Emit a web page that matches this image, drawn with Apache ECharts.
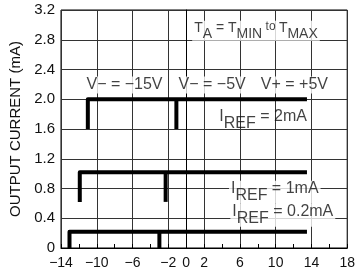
<!DOCTYPE html>
<html>
<head>
<meta charset="utf-8">
<script src="https://cdn.jsdelivr.net/npm/echarts@6/dist/echarts.min.js"></script>
<style>
  html, body { margin: 0; padding: 0; background: #fff; }
  #chart { width: 358px; height: 276px; }
</style>
</head>
<body>
<div id="chart"></div>
<script>
// supply voltage (V) on x, output current (mA) on y
const xShownLabels = [-14, -10, -6, -2, 0, 2, 6, 10, 14, 18];
const yTicks = [0, 0.4, 0.8, 1.2, 1.6, 2.0, 2.4, 2.8, 3.2];

// each curve: main step + short step on the V- side
const ref2mA = [[-11, 1.6], [-11, 2.0], [13.5, 2.0]];
const ref2mAStep = [[-1.1, 1.6], [-1.1, 2.0]];
const ref1mA = [[-11.9, 0.62], [-11.9, 1.02], [13.5, 1.02]];
const ref1mAStep = [[-2.3, 0.62], [-2.3, 1.02]];
const ref02mA = [[-13.05, 0], [-13.05, 0.22], [13.5, 0.22]];
const ref02mAStep = [[-3.0, 0], [-3.0, 0.22]];

// annotation texts
const noteTexts = [
  '{tn|T}{ts|A}{tn| = T}{ts|MIN}{tu| to }{tn|T}{ts|MAX}',
  '{n|V\u2212 = \u221215V}',
  '{n|V\u2212 = \u22125V}',
  '{n|V+ = +5V}',
  '{n|I}{s|REF}{n| = 2mA}',
  '{n|I}{s|REF}{n| = 1mA}',
  '{n|I}{s|REF}{n| = 0.2mA}'
];
// where the annotations sit, in axis units
const noteX = [7.8, -6.9, 2.9, 12.1, 8.6, 9.9, 10.8];
const noteY = [2.92, 2.19, 2.19, 2.19, 1.72, 0.75, 0.44];
const noteOpaque = [true, true, true, true, false, true, true];

const font = 'Liberation Sans, Arial, Helvetica, sans-serif';
const minus = (s) => String(s).replace('-', '\u2212');

let myChart = echarts.init(document.getElementById('chart'));
let option;

const curveLine = (data) => ({
  type: 'line',
  data: data,
  symbol: 'none',
  silent: true,
  z: 3,
  lineStyle: { color: '#000', width: 4, join: 'round', cap: 'butt' }
});

const txt = (size, lh, va) => ({ fontSize: size, lineHeight: lh, verticalAlign: va, color: '#111', fontFamily: font });
const rich = {
  n: txt(16, 17, 'top'),
  s: txt(16, 23, 'bottom'),
  tn: txt(14, 15, 'top'),
  ts: txt(14, 20, 'bottom'),
  tu: txt(12, 13, 'top')
};

option = {
  animation: false,
  backgroundColor: '#fff',
  textStyle: { fontFamily: font },
  grid: {
    left: 57, right: 6, top: 10, bottom: 28,
    show: true, borderColor: '#000', borderWidth: 1
  },
  xAxis: [
    {
      type: 'value',
      min: -14, max: 18, interval: 2,
      axisLine: { show: true, lineStyle: { color: '#000', width: 1 } },
      axisTick: { show: true, inside: true, length: 4, lineStyle: { color: '#000' } },
      splitLine: { show: false },
      axisLabel: {
        color: '#111', fontSize: 14, fontFamily: font, margin: 8,
        formatter: (v) => xShownLabels.includes(v) ? minus(v) : ''
      }
    },
    {
      type: 'value',
      position: 'top',
      min: -14, max: 18, interval: 4,
      axisLine: { show: false },
      axisTick: { show: false },
      axisLabel: { show: false },
      splitLine: { show: true, lineStyle: { color: '#333', width: 1 } }
    }
  ],
  yAxis: {
    type: 'value',
    min: yTicks[0], max: yTicks[yTicks.length - 1], interval: 0.4,
    name: 'OUTPUT CURRENT (mA)',
    nameLocation: 'middle',
    nameGap: 38,
    nameTextStyle: { color: '#111', fontSize: 15, fontFamily: font },
    axisLine: { show: true, lineStyle: { color: '#000', width: 1 } },
    axisTick: { show: false },
    splitLine: { show: true, lineStyle: { color: '#333', width: 1 } },
    axisLabel: {
      color: '#111', fontSize: 15, fontFamily: font, margin: 6,
      formatter: (v) => v === 0 ? '0' : v.toFixed(1)
    }
  },
  series: [
    curveLine(ref2mA), curveLine(ref2mAStep),
    curveLine(ref1mA), curveLine(ref1mAStep),
    curveLine(ref02mA), curveLine(ref02mAStep),
    {
      type: 'scatter',
      symbolSize: 0,
      silent: true,
      z: 4,
      data: noteX.map((x, i) => ({
        value: [x, noteY[i]],
        label: { backgroundColor: noteOpaque[i] ? '#fff' : 'transparent' }
      })),
      label: {
        show: true,
        position: 'inside',
        align: 'center',
        verticalAlign: 'middle',
        padding: [0, 2],
        formatter: (p) => noteTexts[p.dataIndex],
        rich: rich
      }
    }
  ]
};

option && myChart.setOption(option);
</script>
</body>
</html>
